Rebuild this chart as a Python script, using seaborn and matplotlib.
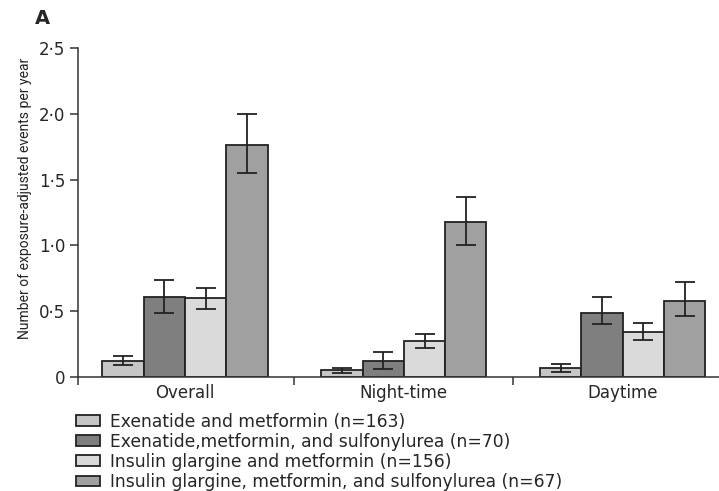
import matplotlib
matplotlib.use("Agg")
import matplotlib.pyplot as plt
import seaborn as sns
import pandas as pd
from matplotlib.ticker import FixedLocator, FuncFormatter

# Hypoglycaemia rates by period and treatment arm
periods = ["Overall", "Night-time", "Daytime"]
groups = [
    "Exenatide and metformin (n=163)",
    "Exenatide,metformin, and sulfonylurea (n=70)",
    "Insulin glargine and metformin (n=156)",
    "Insulin glargine, metformin, and sulfonylurea (n=67)",
]
rate_exen_met = [0.12, 0.05, 0.07]
rate_exen_met_su = [0.61, 0.12, 0.49]
rate_ins_met = [0.60, 0.27, 0.34]
rate_ins_met_su = [1.76, 1.18, 0.58]
lower_exen_met = [0.09, 0.03, 0.04]
lower_exen_met_su = [0.49, 0.06, 0.40]
lower_ins_met = [0.52, 0.22, 0.28]
lower_ins_met_su = [1.55, 1.00, 0.46]
upper_exen_met = [0.16, 0.07, 0.10]
upper_exen_met_su = [0.74, 0.19, 0.61]
upper_ins_met = [0.68, 0.33, 0.41]
upper_ins_met_su = [2.00, 1.37, 0.72]

rates = [rate_exen_met, rate_exen_met_su, rate_ins_met, rate_ins_met_su]
lowers = [lower_exen_met, lower_exen_met_su, lower_ins_met, lower_ins_met_su]
uppers = [upper_exen_met, upper_exen_met_su, upper_ins_met, upper_ins_met_su]
colors = ["#c6c6c6", "#7f7f7f", "#dadada", "#a0a0a0"]

rows = []
for g, r, lo, hi in zip(groups, rates, lowers, uppers):
    for p, v, l, h in zip(periods, r, lo, hi):
        rows.append({"period": p, "group": g, "rate": v, "lo": l, "hi": h})
df = pd.DataFrame(rows)

sns.set_style("white")
plt.rcParams["font.family"] = ["DejaVu Sans"]

fig = plt.figure(figsize=(7.19, 4.91), dpi=100)
ax = fig.add_axes([78 / 719, 1 - 377 / 491, 1 - 78 / 719, (377 - 48) / 491])

sns.barplot(data=df, x="period", y="rate", hue="group", order=periods,
            hue_order=groups, palette=colors, width=0.755, errorbar=None,
            edgecolor="#222222", linewidth=1.3, saturation=1, ax=ax,
            legend=True)

# error bars at bar centres
for patch_group, g in zip(ax.containers, groups):
    sub = df[df["group"] == g].set_index("period").loc[periods]
    xs = [p.get_x() + p.get_width() / 2 for p in patch_group]
    ax.errorbar(xs, sub["rate"],
                yerr=[sub["rate"] - sub["lo"], sub["hi"] - sub["rate"]],
                fmt="none", ecolor="#222222", elinewidth=1.3, capsize=7,
                capthick=1.3)

ax.set_ylim(0, 2.5)
ax.set_xlim(-0.489, 2.44)
for s in ["top", "right"]:
    ax.spines[s].set_visible(False)
for s in ["left", "bottom"]:
    ax.spines[s].set_color("#333333")
    ax.spines[s].set_linewidth(1.1)

ax.yaxis.set_major_locator(FixedLocator([0, 0.5, 1.0, 1.5, 2.0, 2.5]))
ax.yaxis.set_major_formatter(FuncFormatter(
    lambda v, _: "0" if v == 0 else f"{v:.1f}".replace(".", "\u00b7")))
ax.tick_params(axis="y", direction="out", length=6, width=1.1,
               color="#333333", labelsize=12, pad=3, left=True)

# category labels on minor ticks, boundary ticks on major ticks
ax.set_xticks([-0.489, 0.5, 1.5])
ax.set_xticklabels(["", "", ""])
ax.set_xticks([0, 1, 2], minor=True)
ax.set_xticklabels(periods, minor=True)
ax.tick_params(axis="x", which="major", direction="out", length=6,
               width=1.1, color="#333333", bottom=True)
ax.tick_params(axis="x", which="minor", length=0, labelsize=12, pad=5)

ax.set_xlabel("")
ax.set_ylabel("")
fig.text(25 / 719, 1 - 198 / 491,
         "Number of exposure-adjusted events per year",
         fontsize=10, family=["Roboto", "DejaVu Sans"], rotation=90,
         ha="center", va="center", color="#222222")

handles, labels = ax.get_legend_handles_labels()
ax.get_legend().remove()
fig.legend(handles, labels, loc="upper left",
           bbox_to_anchor=(69 / 719, 1 - 406 / 491), frameon=False,
           fontsize=12.3, handlelength=1.4, handleheight=0.6,
           labelspacing=0.12, handletextpad=0.58, borderaxespad=0)

fig.text(35 / 719, 1 - 18 / 491, "A", fontsize=14, fontweight="bold",
         ha="left", va="center")

fig.savefig("out.png", dpi=100)
